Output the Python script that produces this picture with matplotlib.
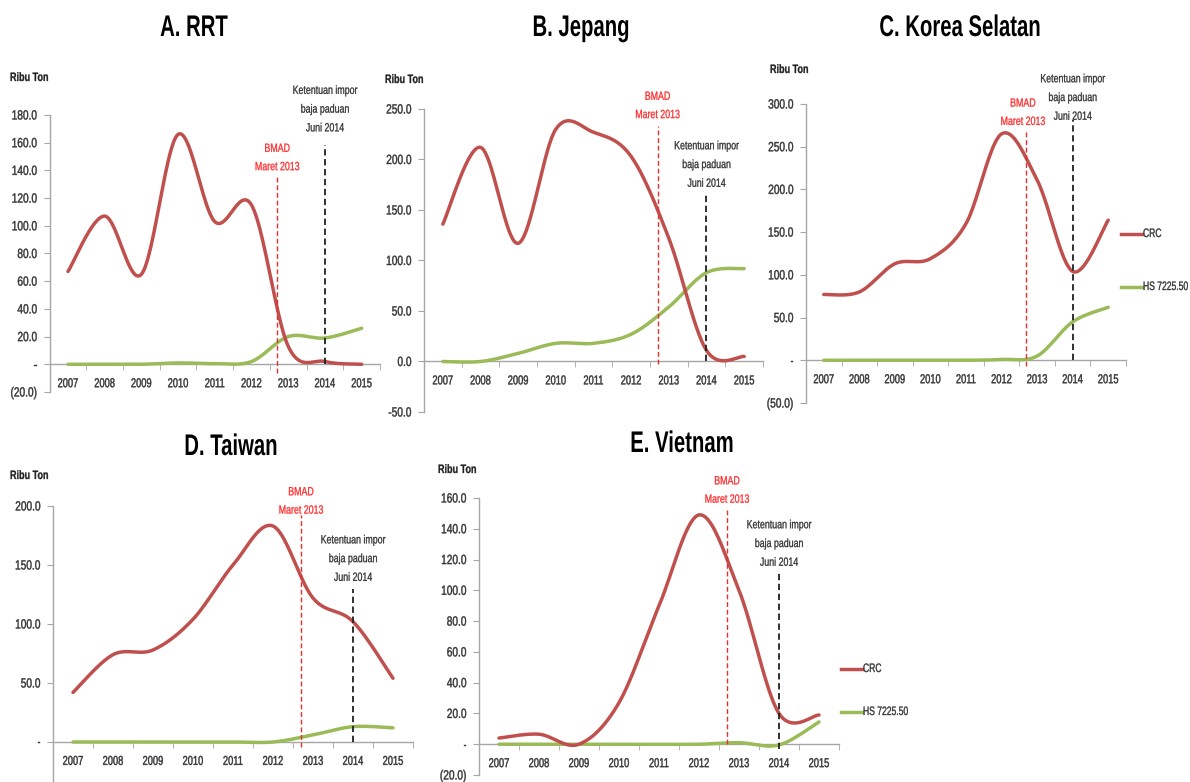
import numpy as np
import matplotlib
matplotlib.use("Agg")
import matplotlib.pyplot as plt
from matplotlib.lines import Line2D
from matplotlib.patheffects import AbstractPathEffect
from matplotlib.transforms import Affine2D

plt.rcParams['font.family'] = ['Liberation Sans', 'DejaVu Sans']

# ---- data (thousand tonnes) ----
years = ["2007", "2008", "2009", "2010", "2011", "2012", "2013", "2014", "2015"]

rrt_crc = [67, 107, 65, 166, 103, 115, 13, 2, 0]
rrt_hs = [0, 0, 0, 1, 0.5, 2, 20, 19, 26]

jepang_crc = [136, 212, 117, 230, 227, 203, 122, 11, 5]
jepang_hs = [0, 0, 8, 18, 18, 27, 54, 88, 92]

korea_crc = [77, 80, 113, 119, 160, 265, 211, 104, 164]
korea_hs = [0, 0, 0, 0, 0, 1, 5, 45, 62]

taiwan_crc = [42, 74, 78, 104, 150, 183, 122, 102, 54]
taiwan_hs = [0, 0, 0, 0, 0, 0, 6, 13, 12]

vietnam_crc = [4, 6.5, 0, 27, 90, 149, 100, 20, 19]
vietnam_hs = [0, 0, 0, 0, 0, 0, 1, -0.5, 14.5]

rrt_ticks = [-20, 0, 20, 40, 60, 80, 100, 120, 140, 160, 180]
rrt_ticklabels = ["(20.0)", "-", "20.0", "40.0", "60.0", "80.0", "100.0", "120.0", "140.0", "160.0", "180.0"]
jepang_ticks = [-50, 0, 50, 100, 150, 200, 250]
jepang_ticklabels = ["-50.0", "0.0", "50.0", "100.0", "150.0", "200.0", "250.0"]
korea_ticks = [-50, 0, 50, 100, 150, 200, 250, 300]
korea_ticklabels = ["(50.0)", "-", "50.0", "100.0", "150.0", "200.0", "250.0", "300.0"]
taiwan_ticks = [0, 50, 100, 150, 200]
taiwan_ticklabels = ["-", "50.0", "100.0", "150.0", "200.0"]
vietnam_ticks = [-20, 0, 20, 40, 60, 80, 100, 120, 140, 160]
vietnam_ticklabels = ["(20.0)", "-", "20.0", "40.0", "60.0", "80.0", "100.0", "120.0", "140.0", "160.0"]

bmad_pos = 5.7      # March 2013 on the category axis
alloy_pos = 7.0     # June 2014 on the category axis

RED = "#C0504D"
GREEN = "#9BBB59"
AXIS = "#A6A6A6"
TXT = "#333333"

W, H = 1190, 782
fig = plt.figure(figsize=(W / 100, H / 100), dpi=100)
fig.patch.set_facecolor("white")
renderer = fig.canvas.get_renderer()


class Squeeze(AbstractPathEffect):
    """Draw text horizontally condensed about the text's anchor point."""

    def __init__(self, txt, sx, weight=0.0):
        super().__init__()
        self.txt = txt
        self.sx = sx
        self.weight = weight

    def draw_path(self, renderer, gc, tpath, affine, rgbFace=None):
        px = self.txt.get_transform().transform(self.txt.get_unitless_position())[0]
        aff = affine + Affine2D().translate(-px, 0).scale(self.sx, 1.0).translate(px, 0)
        if self.weight > 0 and rgbFace is not None:
            gc0 = renderer.new_gc()
            gc0.copy_properties(gc)
            gc0.set_linewidth(self.weight)
            gc0.set_foreground(rgbFace)
            gc0.set_joinstyle("round")
            renderer.draw_path(gc0, tpath, aff, rgbFace)
            gc0.restore()
        else:
            renderer.draw_path(gc, tpath, aff, rgbFace)


def squeeze(txt, sx, weight=0.0, side=None):
    """Condense a text; optionally re-anchor it on its visible left/right edge."""
    if side is not None:
        bb = txt.get_window_extent(renderer)
        tr = txt.get_transform()
        ax_, ay_ = tr.transform(txt.get_unitless_position())
        half = 0.5 * bb.width * sx
        nx = ax_ + half if side == "right" else ax_ - half
        txt.set_position(tr.inverted().transform((nx, ay_)))
        txt.set_horizontalalignment(side)
        txt.set_multialignment("center")
    txt.set_path_effects([Squeeze(txt, sx, weight)])
    return txt


def smooth(vals, n=40):
    """Smoothed line: cubic Bezier segments through each point."""
    pts = np.column_stack([np.arange(len(vals), dtype=float), np.asarray(vals, float)])
    xs, ys = [], []
    t = np.linspace(0, 1, n)[:, None]
    for i in range(len(pts) - 1):
        p0 = pts[i - 1] if i > 0 else pts[i]
        p1, p2 = pts[i], pts[i + 1]
        p3 = pts[i + 2] if i + 2 < len(pts) else pts[i + 1]
        c1 = p1 + (p2 - p0) / 6.0
        c2 = p2 - (p3 - p1) / 6.0
        seg = ((1 - t) ** 3) * p1 + 3 * ((1 - t) ** 2) * t * c1 + 3 * (1 - t) * t ** 2 * c2 + t ** 3 * p2
        if i > 0:
            seg = seg[1:]
        xs.append(seg[:, 0])
        ys.append(seg[:, 1])
    return np.concatenate(xs), np.concatenate(ys)


def panel(x0, x1, ytop, ybot, ylim, ticks, ticklabels, crc, hs, title, title_xy,
          unit_xy, red_span, red_txt_y, blk_span, blk_txt_y, red_txt_x=None, split=False):
    ax = fig.add_axes([x0 / W, 1 - ybot / H, (x1 - x0) / W, (ybot - ytop) / H])
    ax.set_xlim(-0.5, len(years) - 0.5)
    ax.set_ylim(*ylim)
    for s in ("top", "right"):
        ax.spines[s].set_visible(False)
    ax.spines["bottom"].set_position(("data", 0))
    for s in ("left", "bottom"):
        ax.spines[s].set_color(AXIS)
        ax.spines[s].set_linewidth(1.0)
    ax.set_xticks(range(len(years)))
    ax.set_xticklabels(years)
    ax.set_xticks(np.arange(-0.5, len(years), 1.0), minor=True)
    ax.tick_params(axis="x", which="major", length=0, pad=10, labelsize=9.3, labelcolor=TXT)
    ax.tick_params(axis="x", which="minor", length=4, color=AXIS, direction="out")
    ax.set_yticks(ticks)
    ax.set_yticklabels(ticklabels)
    ax.tick_params(axis="y", length=4, color=AXIS, labelsize=9.6, labelcolor=TXT, pad=5)
    for tk in ax.xaxis.get_major_ticks():
        squeeze(tk.label1, 0.72, 0.3)
    for tk in ax.yaxis.get_major_ticks():
        squeeze(tk.label1, 0.76, 0.3)
    ax.patch.set_alpha(0)

    ax.plot(*smooth(hs), color=GREEN, lw=2.5, solid_capstyle="round", zorder=3)
    ax.plot(*smooth(crc), color=RED, lw=2.5, solid_capstyle="round", zorder=3)

    ax.plot([bmad_pos, bmad_pos], red_span, color="#E03030", lw=1.0, ls=(0, (3.5, 2)), zorder=4)
    ax.plot([alloy_pos, alloy_pos], blk_span, color="#202020", lw=1.3, ls=(0, (3.5, 2)), zorder=4)
    rx = bmad_pos if red_txt_x is None else red_txt_x
    squeeze(ax.text(rx, red_txt_y, "BMAD\nMaret 2013", color="#FF2A2A", fontsize=8.6,
                    ha="center", va="bottom", linespacing=1.7, clip_on=False),
            0.74, 0.2, side="right" if split else None)
    squeeze(ax.text(alloy_pos, blk_txt_y, "Ketentuan impor\nbaja paduan\nJuni 2014",
                    color="#303030", fontsize=8.6, ha="center", va="bottom",
                    linespacing=1.75, clip_on=False),
            0.74, 0.2, side="left" if split else None)

    squeeze(fig.text(title_xy[0] / W, 1 - title_xy[1] / H, title, fontsize=21.5,
                     fontweight="bold", ha="center", va="center", color="black"), 0.68)
    squeeze(fig.text(unit_xy[0] / W, 1 - unit_xy[1] / H, "Ribu Ton", fontsize=8.8,
                     fontweight="bold", ha="left", va="center", color="#202020"), 0.74, 0.2)
    return ax


panel(49.6, 380, 115, 392, (-20, 180), rrt_ticks, rrt_ticklabels, rrt_crc, rrt_hs,
      "A. RRT", (194, 28), (10, 78), (-6, 136), 138, (0, 158), 166)
panel(424, 763, 109, 412, (-50, 250), jepang_ticks, jepang_ticklabels, jepang_crc, jepang_hs,
      "B. Jepang", (581, 28), (385, 80), (-2, 233), 238, (0, 167), 170)
panel(806, 1126, 104, 403, (-50, 300), korea_ticks, korea_ticklabels, korea_crc, korea_hs,
      "C. Korea Selatan", (960, 28), (770, 70), (-7, 268), 272, (0, 281), 278,
      red_txt_x=5.6, split=True)
panel(53, 413, 506, 801, (-50, 200), taiwan_ticks, taiwan_ticklabels, taiwan_crc, taiwan_hs,
      "D. Taiwan", (231, 447), (10, 476), (-4, 192), 191, (0, 130), 134)
panel(479, 839, 498, 775, (-20, 160), vietnam_ticks, vietnam_ticklabels, vietnam_crc, vietnam_hs,
      "E. Vietnam", (682, 444), (438, 470), (0, 152), 155, (-3, 112), 114)


def legend(x, y_crc, y_hs):
    for yy, col, lab in ((y_crc, RED, "CRC"), (y_hs, GREEN, "HS 7225.50")):
        fig.add_artist(Line2D([x / W, (x + 21) / W], [1 - yy / H, 1 - yy / H],
                              color=col, lw=2.5, transform=fig.transFigure))
        t = fig.text((x + 22) / W, 1 - yy / H, lab, fontsize=8.8, color=TXT,
                     ha="center", va="center")
        # anchor on the right edge so the condensed label starts next to its line
        bb = t.get_window_extent(renderer)
        t.set_position(((x + 22 + bb.width * 0.7) / W, 1 - yy / H))
        t.set_horizontalalignment("right")
        squeeze(t, 0.7, 0.25)


legend(1121, 234, 287)
legend(841, 669, 712)

fig.savefig("out.png", dpi=100, facecolor="white")
